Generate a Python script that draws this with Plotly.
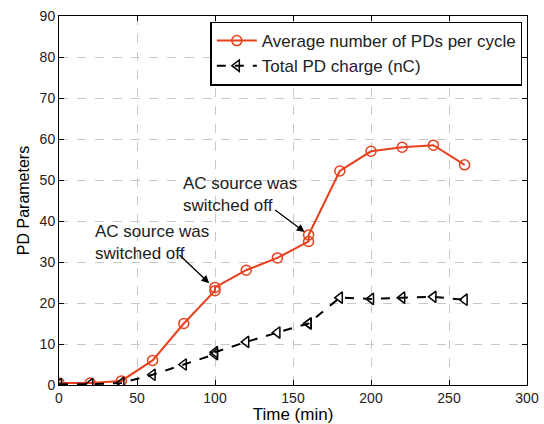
import plotly.graph_objects as go

time_min = [0, 20, 40, 60, 80, 100, 100, 120, 140, 160, 160, 180, 200, 220, 240, 260]
avg_pds = [0.5, 0.5, 1.0, 6.0, 15.0, 23.0, 23.8, 28.0, 31.0, 35.0, 36.6, 52.2, 57.0, 58.0, 58.5, 53.7]
total_charge = [0.2, 0.2, 0.5, 2.5, 5.0, 7.5, 8.0, 10.5, 12.8, 15.0, 15.0, 21.3, 21.0, 21.3, 21.5, 20.8]

FONT = "Liberation Sans, Arial"
fig = go.Figure()
fig.add_trace(go.Scatter(
    x=time_min, y=avg_pds, mode="lines+markers",
    name="Average number of PDs per cycle",
    line=dict(color="#e8401c", width=2),
    marker=dict(symbol="circle-open", size=10, color="#e8401c", line=dict(width=1.5)),
))
fig.add_trace(go.Scatter(
    x=time_min, y=total_charge, mode="lines+markers",
    name="Total PD charge (nC)",
    line=dict(color="black", width=2, dash="dash"),
    marker=dict(symbol="triangle-left-open", size=10, color="black", line=dict(width=1.5)),
))

ann_font = dict(family=FONT, size=17, color="#222222")
fig.add_annotation(x=100, y=23.5, xref="x", yref="y", ax=-37, ay=-35, axref="pixel", ayref="pixel",
                   showarrow=True, arrowhead=2, arrowsize=1.2, arrowwidth=1.3, arrowcolor="black",
                   text="", standoff=8)
fig.add_annotation(x=59.6, y=34.8, xref="x", yref="y", showarrow=False, xanchor="center", yanchor="middle",
                   text="AC source was<br>switched off", font=ann_font, align="left")
fig.add_annotation(x=160, y=36.6, xref="x", yref="y", ax=-35, ay=-26, axref="pixel", ayref="pixel",
                   showarrow=True, arrowhead=2, arrowsize=1.2, arrowwidth=1.3, arrowcolor="black",
                   text="", standoff=5)
fig.add_annotation(x=116, y=46.5, xref="x", yref="y", showarrow=False, xanchor="center", yanchor="middle",
                   text="AC source was<br>switched off", font=ann_font, align="left")

axis_common = dict(
    showline=True, linecolor="black", linewidth=1, mirror="ticks",
    ticks="inside", ticklen=5, tickcolor="black", automargin=False,
    showgrid=True, gridcolor="#c8c8c8", griddash="dash", gridwidth=1,
    zeroline=False, tickfont=dict(family=FONT, size=14, color="#222222"),
)
fig.update_xaxes(range=[0, 300], dtick=50, title=dict(text="Time (min)", font=dict(size=17, family=FONT, color="black"), standoff=3), **axis_common)
fig.update_yaxes(range=[0, 90], dtick=10, title=dict(text="PD Parameters", font=dict(size=16, family=FONT, color="black"), standoff=6), **axis_common)

fig.update_layout(
    width=544, height=424,
    margin=dict(l=59, r=17, t=16, b=39),
    paper_bgcolor="white", plot_bgcolor="white",
    font=dict(family=FONT, color="black"),
    legend=dict(x=0.99, y=0.985, xanchor="right", yanchor="top",
                bgcolor="white", bordercolor="black", borderwidth=1.5,
                font=dict(size=17, family=FONT, color="#222222"),
                tracegroupgap=0, itemwidth=40),
    showlegend=True,
)
# remove the browser's default 8px body margin so the figure sits at the window's corner
fig.write_html("out.html", config={"displayModeBar": False},
               post_script="document.body.style.margin='0';document.body.style.overflow='hidden';")
